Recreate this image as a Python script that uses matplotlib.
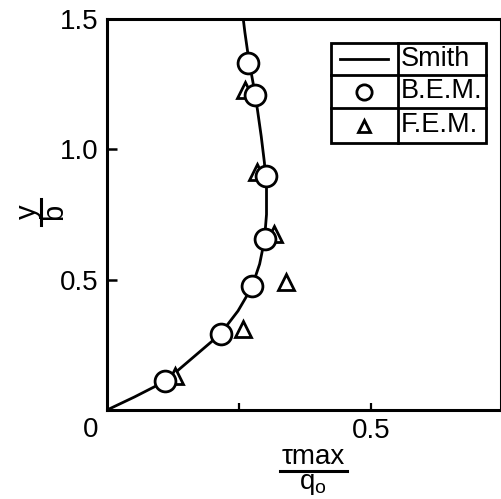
import matplotlib
matplotlib.use("Agg")
import matplotlib.pyplot as plt
from matplotlib.lines import Line2D
from matplotlib.patches import Rectangle

plt.rcParams['font.family'] = ['Liberation Sans', 'DejaVu Sans']
plt.rcParams['mathtext.fontset'] = 'custom'
plt.rcParams['mathtext.rm'] = 'Liberation Sans'

# Smith (analytical) curve
smith_y = [0, 0.05, 0.11, 0.20, 0.29, 0.38, 0.47, 0.56, 0.65, 0.75, 0.85,
           0.95, 1.05, 1.15, 1.25, 1.35, 1.45, 1.5]
smith_x = [0, 0.052, 0.110, 0.162, 0.214, 0.248, 0.274, 0.289, 0.298, 0.302,
           0.302, 0.298, 0.292, 0.285, 0.277, 0.268, 0.261, 0.258]

# B.E.M. results (circles)
bem_x = [0.110, 0.216, 0.275, 0.299, 0.301, 0.281, 0.267]
bem_y = [0.111, 0.292, 0.476, 0.656, 0.898, 1.208, 1.331]

# F.E.M. results (triangles)
fem_x = [0.129, 0.258, 0.339, 0.316, 0.284, 0.261]
fem_y = [0.130, 0.311, 0.491, 0.675, 0.913, 1.227]

legend_labels = ['Smith', 'B.E.M.', 'F.E.M.']
yticks = [0.5, 1.0, 1.5]
yticklabels = ['0.5', '1.0', '1.5']
xticks = [0.25, 0.5]
xticklabels = ['', '0.5']

W, H = 502, 499
fig = plt.figure(figsize=(W / 100, H / 100), dpi=100)


def fx(px):
    return px / W


def fy(py):
    return 1 - py / H


ax = fig.add_axes([fx(107), fy(410), (501 - 107) / W, (410 - 19) / H])
ax.set_xlim(0, 0.746)
ax.set_ylim(0, 1.5)

ax.plot(smith_x, smith_y, color='black', lw=2.0, zorder=2)
ax.plot(fem_x, fem_y, linestyle='none', marker='^', ms=11.5, mfc='white',
        mec='black', mew=2.0, zorder=3, clip_on=False)
ax.plot(bem_x, bem_y, linestyle='none', marker='o', ms=15, mfc='white',
        mec='black', mew=2.0, zorder=4, clip_on=False)

for s in ax.spines.values():
    s.set_linewidth(2.2)

ax.set_yticks(yticks)
ax.set_yticklabels(yticklabels)
ax.set_xticks(xticks)
ax.set_xticklabels(xticklabels)
ax.tick_params(axis='y', direction='in', length=7, width=1.8, labelsize=20, pad=6)
ax.tick_params(axis='x', direction='in', length=5, width=1.6, labelsize=20, pad=6)

# origin label
fig.text(fx(91), fy(430), '0', fontsize=20, ha='center', va='center')

# y label: y over b, rotated
fig.text(fx(28), fy(212), 'y', fontsize=21, rotation=90, ha='center', va='center')
fig.text(fx(54), fy(212), 'b', fontsize=21, rotation=90, ha='center', va='center')
fig.add_artist(Line2D([fx(41), fx(41)], [fy(199), fy(225)], color='black', lw=2.2))

# x label: tau max over q0
fig.text(fx(313), fy(457), 'τmax', fontsize=20, ha='center', va='center')
fig.add_artist(Line2D([fx(280), fx(347)], [fy(471), fy(471)], color='black', lw=2.2))
fig.text(fx(313), fy(489), r'$\mathrm{q_o}$', fontsize=20, ha='center', va='baseline')

# table-style legend
L, R, T, B = 331, 486, 43, 143
D = 398
rows = [43, 75, 108, 143]
fig.add_artist(Rectangle((fx(L), fy(B)), (R - L) / W, (B - T) / H,
                         transform=fig.transFigure, fill=False, ec='black', lw=2.0))
fig.add_artist(Line2D([fx(D), fx(D)], [fy(T), fy(B)], color='black', lw=2.0))
for r in rows[1:-1]:
    fig.add_artist(Line2D([fx(L), fx(R)], [fy(r), fy(r)], color='black', lw=2.0))
centers = [(rows[i] + rows[i + 1]) / 2 for i in range(3)]
fig.add_artist(Line2D([fx(340), fx(388)], [fy(centers[0]), fy(centers[0])],
                      color='black', lw=2.0))
fig.add_artist(Line2D([fx(364)], [fy(centers[1])], marker='o', ms=11, mfc='white',
                      mec='black', mew=2.0, linestyle='none'))
fig.add_artist(Line2D([fx(364)], [fy(centers[2])], marker='^', ms=9, mfc='white',
                      mec='black', mew=2.0, linestyle='none'))
for lab, c in zip(legend_labels, centers):
    fig.text(fx(401), fy(c), lab, fontsize=19.5, ha='left', va='center')

fig.savefig('out.png', dpi=100)
